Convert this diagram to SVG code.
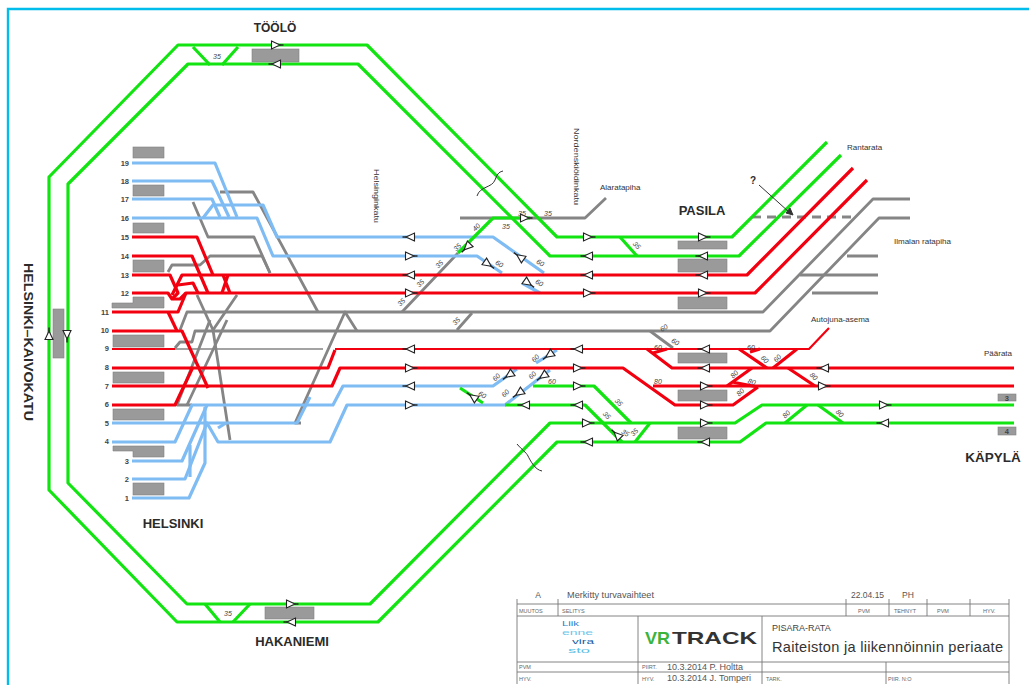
<svg xmlns="http://www.w3.org/2000/svg" width="1029" height="685" viewBox="0 0 1029 685">
<style>
text{font-family:"Liberation Sans",Arial,sans-serif;fill:#2b2b2b}
.g,.b,.r,.y,.yt,.rt{fill:none;stroke-linejoin:round}
.g{stroke:#12e412;stroke-width:3.2}
.b{stroke:#7fbcf4;stroke-width:3.2}
.r{stroke:#f2000f;stroke-width:3.2}
.rt{stroke:#f2000f;stroke-width:2.2}
.y{stroke:#858585;stroke-width:2.8}
.yt{stroke:#858585;stroke-width:1.6}
.p{fill:#9a9a9a;stroke:#808080;stroke-width:.6}
.st{font-size:13px;font-weight:bold;text-anchor:middle}
.n{font-size:7.5px;font-weight:bold;text-anchor:end;fill:#444}
.s{font-size:7px;font-style:italic;text-anchor:middle;fill:#444}
.l{font-size:8px;fill:#333}
.tb{fill:none;stroke:#777;stroke-width:.9}
.t5{font-size:5.5px;fill:#666}
.t8{font-size:8.5px;fill:#555}
</style>
<defs>
<g id="a"><path d="M-4.5,-4 L4,0 L-4.5,4Z" fill="#fff" stroke="#222" stroke-width="1.1"/><path d="M3.5,0H7.5" stroke="#222" stroke-width="1.4"/></g>
</defs>
<path d="M8,685V9H1029" fill="none" stroke="#00bdec" stroke-width="2.4"/>

<g id="connectors">
<g id="yard-tracks">
<path class="y" d="M220,192H253L318,312"/>
<path class="y" d="M193,202L208,237H254L270,273"/>
<path class="y" d="M168,272L172,265H200L210,256H262L270,273"/>
<path class="y" d="M197,295L213,330L230,440"/>
<path class="y" d="M210,320L177,405H192"/>
<path class="y" d="M213,330L237,295M227,320L187,405"/>
<path class="y" d="M180,330L187,312H763L873,199H910"/>
<path class="y" d="M175,348L180,342H192L195,331H770L879,218H910"/>
<path class="yt" d="M175,349H323"/>
<path class="y" d="M650,331L673,348"/>
<path class="y" d="M357,331L345,312L295,423H301"/>
<path class="y" d="M402,312L458,253M457,330L472,313"/>
<path class="y" d="M460,218H585L606,198"/>
<path class="y" d="M847,256H878M800,275H878M812,293H878"/>
<path class="y" stroke-dasharray="9 6" d="M752,217H857"/>
</g>
<g id="blue-tracks">
<path class="b" d="M132,163H215L237,217"/>
<path class="b" d="M132,181H212L229,217"/>
<path class="b" d="M132,199H212L220,217"/>
<path class="b" d="M132,218H257L273,256H477L502,273"/>
<path class="b" d="M522,283L540,293"/>
<path class="b" d="M203,218L213,205H263L277,237H493L544,273"/>
<path class="b" d="M112,423H297L310,397"/>
<path class="b" d="M112,442H175L192,405H333L343,386H493L517,369"/>
<path class="b" d="M536,363L557,350"/>
<path class="b" d="M132,461H182L207,405"/>
<path class="b" d="M132,479H185L207,423L218,442H330L347,405H505L550,370"/>
<path class="b" d="M132,498H189L205,463V407"/>
<path class="b" d="M190,445V477"/>
<path class="b" d="M218,428L226,423"/>
</g>
<g id="red-tracks">
<path class="r" d="M132,237H197L213,275"/>
<path class="r" d="M132,256H192L208,293"/>
<path class="r" d="M132,275H170L178,293L172,299"/>
<path class="r" d="M172,295L182,275H747L853,168"/>
<path class="r" d="M132,293H168L172,299H180L186,293H755L867,180"/>
<path class="r" d="M178,285L193,283L198,293"/>
<path class="r" d="M112,312H178L186,293"/>
<path class="r" d="M168,312L177,331"/>
<path class="r" d="M112,331H182L208,388"/>
<path class="r" d="M223,275L230,293M228,275L222,293"/>
<path class="rt" d="M112,349H175"/>
<path class="r" d="M112,368H328L335,350"/>
<path class="rt" d="M335,349H809L829,328"/>
<path class="r" d="M112,386H332L340,368H623L675,405H733L758,387"/>
<path class="r" d="M112,405H175L193,367"/>
<path class="r" d="M647,349L672,368H1014"/>
<path class="r" d="M653,353L667,349"/>
<path class="r" d="M653,386H1014"/>
<path class="r" d="M739,349L767,368M788,368L815,386M773,368L797,349M727,386L752,368M732,382L758,387M750,352L760,349"/>
</g>
<g id="green-tracks">
<path class="g" d="M827,142L732,237H557L367,45H178L49,177V490L177,622H378L557,442H740L766,423H1014"/>
<path class="g" d="M841,155L739,256H550L358,64H188L68,184V483L187,604H370L550,423H735L762,405H1014"/>
<path class="g" d="M193,47L210,65M238,47L222,65"/>
<path class="g" d="M205,604L220,622M250,604L233,622"/>
<path class="g" d="M620,237L637,256"/>
<path class="g" d="M458,253L493,218H530"/>
<path class="g" d="M533,386H594L631,423"/>
<path class="g" d="M505,405H585L622,442"/>
<path class="g" d="M635,442L650,423"/>
<path class="g" d="M460,388L483,403"/>
<path class="g" d="M785,423L807,405M818,405L843,423"/>
</g>
<g id="markers" fill="none" stroke="#333" stroke-width="1">
<path d="M477,196C480,186 492,188 495,180S500,172 503,171"/>
<path d="M517,444C522,450 526,452 528,456S535,470 542,471"/>
<path d="M759,185L789,212"/>
<path d="M786,213L793,215L790,208Z" fill="#333"/>
</g>
</g>

<g id="platforms">
<rect class="p" x="133" y="147" width="31" height="11"/>
<rect class="p" x="133" y="185" width="31" height="11"/>
<rect class="p" x="133" y="223" width="31" height="10"/>
<rect class="p" x="133" y="260" width="31" height="12"/>
<path class="p" d="M133,297H164V308H112V303H133Z"/>
<rect class="p" x="113" y="335" width="51" height="12"/>
<rect class="p" x="113" y="372" width="51" height="11"/>
<rect class="p" x="113" y="409" width="51" height="11"/>
<path class="p" d="M113,446H164V457H133V451H113Z"/>
<rect class="p" x="133" y="483" width="31" height="12"/>
<rect class="p" x="252" y="49" width="47" height="13"/>
<rect class="p" x="265" y="607" width="49" height="12"/>
<rect class="p" x="53" y="309" width="11" height="49"/>
<rect class="p" x="678" y="241" width="49" height="8"/>
<rect class="p" x="678" y="259" width="49" height="13"/>
<rect class="p" x="678" y="297" width="49" height="12"/>
<rect class="p" x="678" y="353" width="49" height="10"/>
<rect class="p" x="678" y="390" width="49" height="11"/>
<rect class="p" x="678" y="427" width="49" height="12"/>
<rect class="p" x="998" y="394" width="18" height="7"/>
<rect class="p" x="998" y="427" width="18" height="8"/>
</g>

<g id="signals">
<use href="#a" transform="translate(276,45)"/>
<use href="#a" transform="translate(276,64) rotate(180)"/>
<use href="#a" transform="translate(291,604)"/>
<use href="#a" transform="translate(291,622) rotate(180)"/>
<use href="#a" transform="translate(49,335) rotate(-90)"/>
<use href="#a" transform="translate(67,335) rotate(90)"/>
<use href="#a" transform="translate(410,237) rotate(180)"/>
<use href="#a" transform="translate(410,256)"/>
<use href="#a" transform="translate(410,275) rotate(180)"/>
<use href="#a" transform="translate(410,293)"/>
<use href="#a" transform="translate(410,349) rotate(180)"/>
<use href="#a" transform="translate(410,368)"/>
<use href="#a" transform="translate(410,386) rotate(180)"/>
<use href="#a" transform="translate(410,405)"/>
<use href="#a" transform="translate(588,237)"/>
<use href="#a" transform="translate(588,256) rotate(180)"/>
<use href="#a" transform="translate(588,275) rotate(180)"/>
<use href="#a" transform="translate(588,293)"/>
<use href="#a" transform="translate(578,349) rotate(180)"/>
<use href="#a" transform="translate(578,368)"/>
<use href="#a" transform="translate(578,386)"/>
<use href="#a" transform="translate(578,405) rotate(180)"/>
<use href="#a" transform="translate(525,405) rotate(180)"/>
<use href="#a" transform="translate(587,423)"/>
<use href="#a" transform="translate(588,442) rotate(180)"/>
<use href="#a" transform="translate(703,237)"/>
<use href="#a" transform="translate(703,256) rotate(180)"/>
<use href="#a" transform="translate(703,275) rotate(180)"/>
<use href="#a" transform="translate(703,293)"/>
<use href="#a" transform="translate(705,349) rotate(180)"/>
<use href="#a" transform="translate(705,368) rotate(180)"/>
<use href="#a" transform="translate(705,386)"/>
<use href="#a" transform="translate(705,405)"/>
<use href="#a" transform="translate(705,423)"/>
<use href="#a" transform="translate(705,442) rotate(180)"/>
<use href="#a" transform="translate(824,368) rotate(180)"/>
<use href="#a" transform="translate(823,386)"/>
<use href="#a" transform="translate(884,405)"/>
<use href="#a" transform="translate(884,423) rotate(180)"/>
<use href="#a" transform="translate(525,218)"/>
<use href="#a" transform="translate(467,247) rotate(135)"/>
<use href="#a" transform="translate(488,264) rotate(35)"/>
<use href="#a" transform="translate(520,257) rotate(215)"/>
<use href="#a" transform="translate(528,283) rotate(35)"/>
<use href="#a" transform="translate(549,355) rotate(145)"/>
<use href="#a" transform="translate(543,376) rotate(145)"/>
<use href="#a" transform="translate(509,375) rotate(145)"/>
<use href="#a" transform="translate(519,393) rotate(145)"/>
<use href="#a" transform="translate(473,397) rotate(215)"/>
<use href="#a" transform="translate(617,435) rotate(225)"/>
</g>

<g id="speeds">
<text class="s" x="217" y="59">35</text>
<text class="s" x="228" y="616">35</text>
<text class="s" x="522" y="216">35</text>
<text class="s" x="548" y="216">35</text>
<text class="s" x="506" y="229">35</text>
<text class="s" transform="translate(478,229) rotate(-45)">40</text>
<text class="s" transform="translate(459,249) rotate(-45)">35</text>
<text class="s" transform="translate(441,266) rotate(-45)">35</text>
<text class="s" transform="translate(422,285) rotate(-45)">35</text>
<text class="s" transform="translate(403,304) rotate(-45)">35</text>
<text class="s" transform="translate(458,323) rotate(-45)">35</text>
<text class="s" transform="translate(635,247) rotate(45)">35</text>
<text class="s" transform="translate(498,266) rotate(30)">60</text>
<text class="s" transform="translate(539,265) rotate(30)">60</text>
<text class="s" transform="translate(538,285) rotate(30)">60</text>
<text class="s" transform="translate(665,330) rotate(-30)">60</text>
<text class="s" transform="translate(674,344) rotate(30)">60</text>
<text class="s" x="658" y="350">60</text>
<text class="s" x="658" y="384">80</text>
<text class="s" transform="translate(537,360) rotate(-45)">60</text>
<text class="s" transform="translate(498,379) rotate(-45)">60</text>
<text class="s" transform="translate(534,377) rotate(-45)">60</text>
<text class="s" x="552" y="384">60</text>
<text class="s" transform="translate(507,395) rotate(-45)">60</text>
<text class="s" transform="translate(481,397) rotate(30)">60</text>
<text class="s" transform="translate(617,404) rotate(45)">35</text>
<text class="s" transform="translate(605,417) rotate(45)">35</text>
<text class="s" transform="translate(624,435) rotate(30)">35</text>
<text class="s" transform="translate(636,434) rotate(-45)">35</text>
<text class="s" x="751" y="350">60</text>
<text class="s" transform="translate(763,361) rotate(45)">60</text>
<text class="s" transform="translate(779,360) rotate(-45)">60</text>
<text class="s" transform="translate(736,376) rotate(-45)">80</text>
<text class="s" transform="translate(751,384) rotate(20)">80</text>
<text class="s" transform="translate(742,394) rotate(-45)">80</text>
<text class="s" transform="translate(812,378) rotate(45)">80</text>
<text class="s" transform="translate(788,416) rotate(-45)">80</text>
<text class="s" transform="translate(838,415) rotate(45)">80</text>
</g>

<g id="track-numbers">
<text class="n" x="129" y="166">19</text><text class="n" x="129" y="184">18</text><text class="n" x="129" y="202">17</text><text class="n" x="129" y="221">16</text><text class="n" x="129" y="240">15</text><text class="n" x="129" y="259">14</text><text class="n" x="129" y="278">13</text><text class="n" x="129" y="296">12</text>
<text class="n" x="109" y="315">11</text><text class="n" x="109" y="333">10</text><text class="n" x="109" y="351">9</text><text class="n" x="109" y="370">8</text><text class="n" x="109" y="389">7</text><text class="n" x="109" y="407">6</text><text class="n" x="109" y="426">5</text><text class="n" x="109" y="444">4</text>
<text class="n" x="129" y="464">3</text><text class="n" x="129" y="482">2</text><text class="n" x="129" y="501">1</text>
<text class="n" x="1009" y="401">3</text><text class="n" x="1009" y="434">4</text>
</g>

<g id="labels">
<text class="st" x="275" y="32" style="font-size:12px">TÖÖLÖ</text>
<text class="st" transform="translate(24,342) rotate(90)" textLength="158" lengthAdjust="spacingAndGlyphs">HELSINKI–KAIVOKATU</text>
<text class="st" x="173" y="528">HELSINKI</text>
<text class="st" x="292" y="646">HAKANIEMI</text>
<text class="st" x="702" y="215">PASILA</text>
<text class="st" x="993" y="462" style="font-size:13.5px">KÄPYLÄ</text>
<text class="st" x="753" y="184" style="font-size:10px">?</text>
<text class="l" x="847" y="150">Rantarata</text>
<text class="l" x="600" y="190">Alaratapiha</text>
<text class="l" x="894" y="244">Ilmalan ratapiha</text>
<text class="l" x="811" y="322">Autojuna-asema</text>
<text class="l" x="984" y="356">Päärata</text>
<text class="l" transform="translate(374,169) rotate(90)" textLength="54" lengthAdjust="spacingAndGlyphs">Helsinginkatu</text>
<text class="l" transform="translate(574,128) rotate(90)" textLength="77" lengthAdjust="spacingAndGlyphs">Nordenskiöldinkatu</text>
</g>

<g id="title-block">
<path class="tb" d="M517,599V684M517,604H1009M517,616H1009M1009,599V684M517,662H1009M517,672H1009"/>
<path class="tb" d="M558,599V616M846,599V616M889,599V616M927,599V616M970,599V616M638,616V684M762,616V684M886,662V684"/>
<text x="538" y="598" class="t8" text-anchor="middle">A</text>
<text x="567" y="598" class="t8" textLength="87" lengthAdjust="spacingAndGlyphs">Merkitty turvavaihteet</text>
<text x="851" y="598" class="t8">22.04.15</text>
<text x="902" y="598" class="t8">PH</text>
<text x="519" y="613" class="t5">MUUTOS</text>
<text x="562" y="613" class="t5">SELITYS</text>
<text x="858" y="613" class="t5">PVM</text>
<text x="894" y="613" class="t5">TEHNYT</text>
<text x="937" y="613" class="t5">PVM</text>
<text x="983" y="613" class="t5">HYV.</text>
<text x="519" y="669" class="t5">PVM</text>
<text x="519" y="681" class="t5">HYV.</text>
<text x="642" y="669" class="t5">PIIRT.</text>
<text x="642" y="681" class="t5">HYV.</text>
<text x="667" y="670" class="t8" style="font-size:9px">10.3.2014 P. Holtta</text>
<text x="667" y="681" class="t8" style="font-size:9px">10.3.2014 J. Tomperi</text>
<text x="766" y="681" class="t5">TARK.</text>
<text x="888" y="681" class="t5">PIIR. N:O</text>
<text x="772" y="631" style="font-size:9px;fill:#444">PISARA-RATA</text>
<text x="772" y="652" style="font-size:14.6px;fill:#333" textLength="231">Raiteiston ja liikennöinnin periaate</text>
<text x="562" y="626" style="font-size:8px;fill:#2f7fc8" textLength="17" lengthAdjust="spacingAndGlyphs">Liik</text>
<text x="562" y="635" style="font-size:8px;fill:#6fc6ea" textLength="31" lengthAdjust="spacingAndGlyphs">enne</text>
<text x="572" y="644" style="font-size:8px;fill:#1a5fa8" textLength="22" lengthAdjust="spacingAndGlyphs">vira</text>
<text x="568" y="653" style="font-size:8px;fill:#5cc0e6" textLength="22" lengthAdjust="spacingAndGlyphs">sto</text>
<text x="645" y="644" style="font-size:17px;font-weight:bold;fill:#3cb43c" textLength="25" lengthAdjust="spacingAndGlyphs">VR</text>
<text x="672" y="644" style="font-size:17px;font-weight:bold;fill:#333" textLength="85" lengthAdjust="spacingAndGlyphs">TRACK</text>
</g>
</svg>
